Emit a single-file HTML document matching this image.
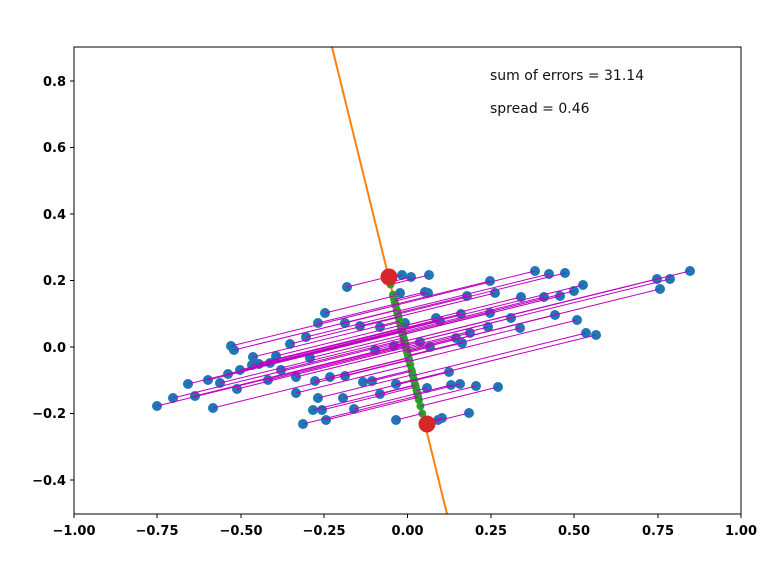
<!DOCTYPE html>
<html><head><meta charset="utf-8"><style>
body{margin:0;background:#fff;}
svg text{font-family:"DejaVu Sans","Liberation Sans",sans-serif;}
</style></head><body>
<svg id="s" width="779" height="575" xmlns="http://www.w3.org/2000/svg">
<defs><clipPath id="c"><rect x="74" y="47" width="667" height="467"/></clipPath></defs>
<rect width="779" height="575" fill="#fff"/>
<g id="plot" clip-path="url(#c)">
<line x1="332" y1="47" x2="447" y2="514" stroke="#ff7f0e" stroke-width="2"/>
</g>
<rect x="74" y="47" width="667" height="467" fill="none" stroke="#000" stroke-width="1"/>
<g font-size="13" font-weight="bold" fill="#000" text-anchor="middle">
<text x="74" y="535">−1.00</text><text x="157" y="535">−0.75</text><text x="241" y="535">−0.50</text><text x="324" y="535">−0.25</text><text x="407.5" y="535">0.00</text><text x="491" y="535">0.25</text><text x="574" y="535">0.50</text><text x="658" y="535">0.75</text><text x="741" y="535">1.00</text>
</g>
<g stroke="#000">
<line x1="74" y1="514" x2="74" y2="518"/><line x1="157" y1="514" x2="157" y2="518"/><line x1="241" y1="514" x2="241" y2="518"/><line x1="324" y1="514" x2="324" y2="518"/><line x1="407.5" y1="514" x2="407.5" y2="518"/><line x1="491" y1="514" x2="491" y2="518"/><line x1="574" y1="514" x2="574" y2="518"/><line x1="658" y1="514" x2="658" y2="518"/><line x1="741" y1="514" x2="741" y2="518"/>
<line x1="70" y1="81" x2="74" y2="81"/><line x1="70" y1="147.5" x2="74" y2="147.5"/><line x1="70" y1="214" x2="74" y2="214"/><line x1="70" y1="280.5" x2="74" y2="280.5"/><line x1="70" y1="347" x2="74" y2="347"/><line x1="70" y1="413.5" x2="74" y2="413.5"/><line x1="70" y1="480" x2="74" y2="480"/>
</g>
<g font-size="13" font-weight="bold" fill="#000" text-anchor="end">
<text x="66" y="86">0.8</text><text x="66" y="152">0.6</text><text x="66" y="219">0.4</text><text x="66" y="285">0.2</text><text x="66" y="352">0.0</text><text x="66" y="418">−0.2</text><text x="66" y="485">−0.4</text>
</g>
<text x="490" y="80" font-size="14" fill="#111">sum of errors = 31.14</text>
<text x="490" y="113" font-size="14" fill="#111">spread = 0.46</text>
</svg>
<script>
var pts=[[402,275],[411,277],[429,275],[347,287],[400,293],[425,292],[428,293],[490,281],[535,271],[549,274],[565,273],[583,285],[495,293],[467,296],[521,297],[544,297],[560,296],[574,291],[690,271],[670,279],[657,279],[660,289],[325,313],[318,323],[345,323],[360,326],[380,327],[405,323],[440,321],[436,318],[461,314],[490,313],[511,318],[520,328],[555,315],[577,320],[586,333],[596,335],[488,327],[470,333],[306,337],[290,344],[231,346],[234,350],[253,357],[276,356],[270,363],[259,364],[310,358],[375,350],[394,346],[420,342],[430,347],[456,338],[462,343],[240,370],[252,365],[228,374],[220,383],[208,380],[188,384],[173,398],[157,406],[195,396],[213,408],[237,389],[268,380],[281,370],[296,377],[315,381],[330,377],[345,376],[363,382],[372,381],[396,384],[427,388],[451,385],[460,384],[476,386],[498,387],[449,372],[296,393],[318,398],[343,398],[380,394],[322,410],[313,410],[354,409],[442,418],[469,413],[396,420],[326,420],[303,424],[438,420]];
var g=document.getElementById('plot'),ns='http://www.w3.org/2000/svg';
var x0=332,y0=47,dx=115,dy=467,L=Math.sqrt(dx*dx+dy*dy);dx/=L;dy/=L;
function el(t,a){var e=document.createElementNS(ns,t);for(var k in a)e.setAttribute(k,a[k]);g.appendChild(e);return e;}
var proj=pts.map(function(p){var t=(p[0]-x0)*dx+(p[1]-y0)*dy;return [x0+t*dx,y0+t*dy];});
pts.forEach(function(p){el('circle',{cx:p[0],cy:p[1],r:5,fill:'#1f77b4'});});
proj.forEach(function(q){el('circle',{cx:q[0],cy:q[1],r:4,fill:'#2ca02c'});});
pts.forEach(function(p,i){el('line',{x1:p[0],y1:p[1],x2:proj[i][0],y2:proj[i][1],stroke:'#bf00bf','stroke-width':1});});
el('circle',{cx:389,cy:277,r:8.5,fill:'#d62728'});
el('circle',{cx:427,cy:424,r:8.5,fill:'#d62728'});
</script>
</body></html>
